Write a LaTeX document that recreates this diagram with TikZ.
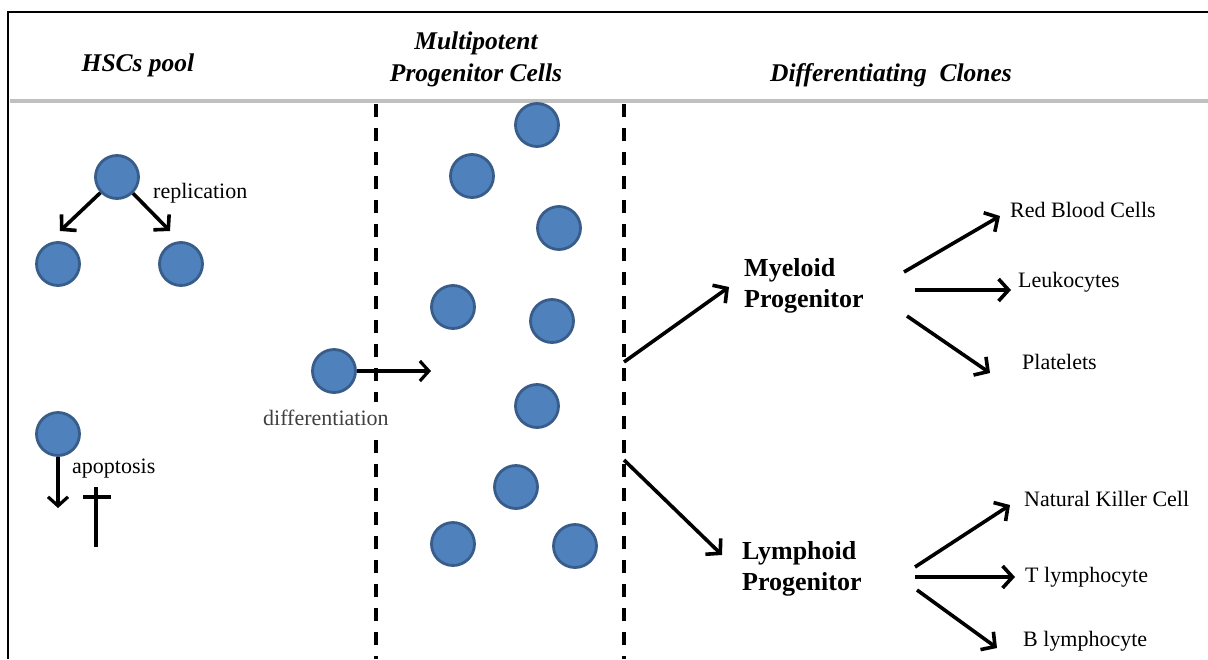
\documentclass[tikz,border=0pt]{standalone}
\usepackage{fontspec}
\setmainfont{Liberation Serif}
\usetikzlibrary{arrows.meta}
\definecolor{cellfill}{HTML}{4F81BD}
\definecolor{celledge}{HTML}{385D8A}
\definecolor{rulegray}{HTML}{C0C0C0}
\definecolor{labelgray}{HTML}{404040}
\begin{document}
\begin{tikzpicture}[x=1pt,y=-1pt,
  cell/.style={circle,fill=cellfill,draw=celledge,line width=2.8pt,minimum size=43pt,inner sep=0pt},
  head/.style={font=\fontsize{25.5}{32}\selectfont\bfseries\itshape,align=center,inner sep=0pt,anchor=base},
  prog/.style={font=\fontsize{26}{31}\selectfont\bfseries,align=left,inner sep=0pt,anchor=base west},
  lbl/.style={font=\fontsize{22}{26}\selectfont,inner sep=0pt,anchor=base west},
  arr/.style={line width=3.6pt,-{Straight Barb[length=10pt,width=22pt]}},
  thinarr/.style={line width=3.2pt,-{Straight Barb[length=9pt,width=20pt]}},
  sep/.style={line width=3.4pt,dash pattern=on 13pt off 11pt}
]
\useasboundingbox (0,0) rectangle (1208,659);

% frame and header rule
\draw[line width=2.8pt] (1208,12) -- (8,12) -- (8,659);
\draw[rulegray,line width=4pt] (10,100.5) -- (1208,100.5);

% column headers
\node[head] (hhsc) at (138,71) {HSCs pool};
\node[head] (hmpp) at (476,81) {Multipotent\\Progenitor Cells};
\node[head] (hdif) at (891,81) {Differentiating\ \ Clones};

% column separators
\draw[sep] (376,104) -- (376,659);
\draw[sep] (624,104) -- (624,659);

% HSC pool: replication
\node[cell] (hsc) at (117,177) {};
\node[cell] (hscL) at (58,264) {};
\node[cell] (hscR) at (181,264) {};
\coordinate (repL) at (60,231);
\coordinate (repR) at (170,231);
\draw[arr] (hsc) -- (repL);
\draw[arr] (hsc) -- (repR);
\node[lbl] (rep) at (153,198) {replication};

% HSC pool: apoptosis
\node[cell] (apo) at (58,434) {};
\coordinate (apoEnd) at (58,508);
\draw[thinarr] (apo) -- (apoEnd);
\node[lbl] (apol) at (72,473) {apoptosis};
\draw[line width=3.2pt] (96,487) -- (96,547);
\draw[line width=3.2pt] (83,497) -- (111,497);

% differentiation into progenitors
\node[cell] (dif) at (334,371) {};
\coordinate (difEnd) at (431,371);
\draw[thinarr] (dif) -- (difEnd);
\node[lbl,text=labelgray,fill=white,inner xsep=0pt,inner ysep=8pt] (difl) at (263,425) {differentiation};

% multipotent progenitor cells
\node[cell] (m1) at (537,125) {};
\node[cell] (m2) at (472,176) {};
\node[cell] (m3) at (559,228) {};
\node[cell] (m4) at (453,307) {};
\node[cell] (m5) at (552,321) {};
\node[cell] (m6) at (537,406) {};
\node[cell] (m7) at (516,487) {};
\node[cell] (m8) at (453,544) {};
\node[cell] (m9) at (575,546) {};

% lineage progenitors
\node[prog] (mye) at (744,307) {Myeloid\\Progenitor};
\node[prog] (lym) at (742,590) {Lymphoid\\Progenitor};
\coordinate (myeIn) at (624,362);
\coordinate (myeTip) at (729,287);
\coordinate (lymIn) at (624,460);
\coordinate (lymTip) at (722,555);
\draw[arr] (myeIn) -- (myeTip);
\draw[arr] (lymIn) -- (lymTip);

% myeloid lineage
\node[lbl] (rbc) at (1010,217) {Red Blood Cells};
\node[lbl] (leu) at (1018,287) {Leukocytes};
\node[lbl] (pla) at (1022,369) {Platelets};
\coordinate (myeA) at (904,272);
\coordinate (myeB) at (915,290);
\coordinate (myeC) at (907,316);
\coordinate (rbcIn) at (1000,216);
\coordinate (leuIn) at (1011,290);
\coordinate (plaIn) at (990,373);
\draw[arr] (myeA) -- (rbcIn);
\draw[arr] (myeB) -- (leuIn);
\draw[arr] (myeC) -- (plaIn);

% lymphoid lineage
\node[lbl] (nk) at (1024,506) {Natural Killer Cell};
\node[lbl] (tly) at (1025,582) {T lymphocyte};
\node[lbl] (bly) at (1023,646) {B lymphocyte};
\coordinate (lymA) at (915,567);
\coordinate (lymB) at (915,577);
\coordinate (lymC) at (917,590);
\coordinate (nkIn) at (1010,505);
\coordinate (tlyIn) at (1015,577);
\coordinate (blyIn) at (997,648);
\draw[arr] (lymA) -- (nkIn);
\draw[arr] (lymB) -- (tlyIn);
\draw[arr] (lymC) -- (blyIn);
\end{tikzpicture}
\end{document}
